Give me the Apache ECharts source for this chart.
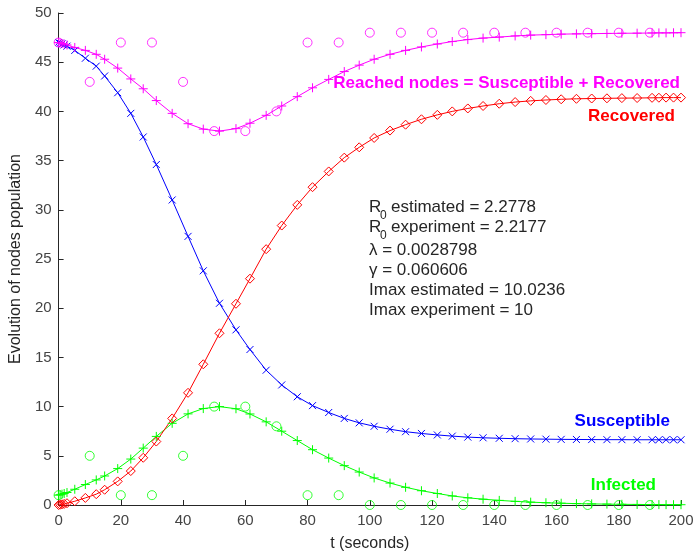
<!DOCTYPE html>
<html>
<head>
<meta charset="utf-8">
<script src="https://cdn.jsdelivr.net/npm/echarts@6/dist/echarts.min.js"></script>
<style>html,body{margin:0;padding:0;background:#fff;}#c{width:697px;height:557px;}</style>
</head>
<body>
<div id="c"></div>
<script>
// Solver time steps (seconds)
const tModel = [0, 0.5, 1.1, 1.8, 2.7, 5.2, 8.6, 12.1, 14.8, 19.0,
  23.2, 27.2, 31.4, 36.5, 41.6, 46.5, 51.7, 57.0, 61.5, 66.7,
  71.7, 76.7, 81.6, 86.8, 91.8, 96.6, 101.4, 106.5, 111.5, 116.6,
  121.7, 126.5, 131.5, 136.4, 141.6, 146.7, 151.7, 156.6, 161.5, 166.4,
  171.3, 176.2, 181.0, 185.9, 190.7, 192.9, 195.2, 197.6, 200];
const susceptible = [47, 46.93, 46.85, 46.76, 46.63, 46.2, 45.4, 44.6, 43.6, 41.9,
  39.8, 37.4, 34.6, 31.0, 27.3, 23.8, 20.5, 17.8, 15.8, 13.7,
  12.2, 11.0, 10.1, 9.4, 8.8, 8.35, 8.0, 7.7, 7.45, 7.27,
  7.12, 7.0, 6.9, 6.83, 6.78, 6.74, 6.71, 6.69, 6.67, 6.66,
  6.65, 6.64, 6.64, 6.63, 6.63, 6.63, 6.63, 6.63, 6.63];
const infected = [1, 1.05, 1.1, 1.17, 1.27, 1.6, 2.08, 2.55, 2.95, 3.7,
  4.67, 5.78, 6.97, 8.3, 9.26, 9.8, 10.0, 9.78, 9.25, 8.45,
  7.5, 6.55, 5.62, 4.77, 4.0, 3.35, 2.75, 2.23, 1.8, 1.45,
  1.17, 0.92, 0.73, 0.59, 0.47, 0.37, 0.29, 0.23, 0.18, 0.14,
  0.11, 0.09, 0.07, 0.055, 0.045, 0.04, 0.036, 0.033, 0.03];
const recovered = [0, 0.03, 0.07, 0.11, 0.18, 0.38, 0.72, 1.1, 1.55, 2.4,
  3.45, 4.8, 6.45, 8.8, 11.4, 14.3, 17.45, 20.45, 23.0, 26.0,
  28.4, 30.5, 32.3, 33.9, 35.3, 36.35, 37.3, 38.05, 38.65, 39.2,
  39.65, 40.0, 40.3, 40.55, 40.78, 40.95, 41.07, 41.16, 41.23, 41.28,
  41.31, 41.33, 41.35, 41.36, 41.38, 41.39, 41.4, 41.4, 41.4];
const reached = [47, 46.95, 46.9, 46.84, 46.75, 46.5, 46.2, 45.8, 45.3, 44.4,
  43.3, 42.3, 41.1, 39.8, 38.75, 38.2, 38.0, 38.25, 38.8, 39.6,
  40.55, 41.5, 42.4, 43.25, 44.05, 44.7, 45.3, 45.8, 46.2, 46.55,
  46.85, 47.1, 47.3, 47.45, 47.55, 47.67, 47.75, 47.8, 47.85, 47.88,
  47.9, 47.92, 47.94, 47.95, 47.97, 47.98, 47.98, 47.99, 48.0];
// Experimental observations
const tExp = [0, 10, 20, 30, 40, 50, 60, 70, 80, 90, 100, 110, 120, 130, 140, 150, 160, 170, 180, 190];
const infectedExp = [1, 5, 1, 1, 5, 10, 10, 8, 1, 1, 0, 0, 0, 0, 0, 0, 0, 0, 0, 0];
const reachedExp = [47, 43, 47, 47, 43, 38, 38, 40, 47, 47, 48, 48, 48, 48, 48, 48, 48, 48, 48, 48];
const xTicks = [0, 20, 40, 60, 80, 100, 120, 140, 160, 180, 200];
const yTicks = [0, 5, 10, 15, 20, 25, 30, 35, 40, 45, 50];

const BLUE = '#0000ff', RED = '#ff0000', GREEN = '#00ff00', MAG = '#ff00ff';
const FONT = '"Liberation Sans", Arial, sans-serif';
const SYM_X = 'path://M0,0L10,10M0,10L10,0';
const SYM_PLUS = 'path://M5,0L5,10M0,5L10,5';

function pairs(xs, ys) { return xs.map((x, i) => [x, ys[i]]); }
function lineSeries(name, ys, color, symbol, size, z) {
  return {
    name, type: 'line', data: pairs(tModel, ys), symbol, symbolSize: size,
    showAllSymbol: true, clip: false, z, animation: false,
    lineStyle: { color, width: 1 },
    itemStyle: { color: symbol.startsWith('path') ? color : 'rgba(0,0,0,0)', borderColor: color, borderWidth: 1 }
  };
}
function expSeries(name, ys, color) {
  return {
    name, type: 'scatter', data: pairs(tExp, ys), symbol: 'circle', symbolSize: 9,
    clip: false, z: 5, animation: false,
    itemStyle: { color: 'rgba(0,0,0,0)', borderColor: color, borderWidth: 1 }
  };
}

const chart = echarts.init(document.getElementById('c'));
const axisCommon = {
  axisLine: { show: true, lineStyle: { color: '#262626', width: 1 } },
  axisTick: { show: true, inside: true, length: 5, lineStyle: { color: '#262626' } },
  splitLine: { show: false },
  nameTextStyle: { color: '#262626', fontSize: 16, fontFamily: FONT }
};
const TXT = '#262626';
const info = [
  { type: 'text', left: 369, top: 199, style: { text: 'R', fill: TXT, font: '17px ' + FONT } },
  { type: 'text', left: 380, top: 210, style: { text: '0', fill: TXT, font: '12px ' + FONT } },
  { type: 'text', left: 391, top: 199, style: { text: 'estimated = 2.2778', fill: TXT, font: '17px ' + FONT } },
  { type: 'text', left: 369, top: 219, style: { text: 'R', fill: TXT, font: '17px ' + FONT } },
  { type: 'text', left: 380, top: 230, style: { text: '0', fill: TXT, font: '12px ' + FONT } },
  { type: 'text', left: 391, top: 219, style: { text: 'experiment = 2.2177', fill: TXT, font: '17px ' + FONT } },
  { type: 'text', left: 369, top: 242, style: { text: '\u03bb = 0.0028798', fill: TXT, font: '17px ' + FONT } },
  { type: 'text', left: 369, top: 262, style: { text: '\u03b3 = 0.060606', fill: TXT, font: '17px ' + FONT } },
  { type: 'text', left: 369, top: 282, style: { text: 'Imax estimated = 10.0236', fill: TXT, font: '17px ' + FONT } },
  { type: 'text', left: 369, top: 302, style: { text: 'Imax experiment = 10', fill: TXT, font: '17px ' + FONT } },
  { type: 'text', right: 17, top: 75, style: { text: 'Reached nodes = Susceptible + Recovered', fill: MAG, font: 'bold 17px ' + FONT } },
  { type: 'text', right: 22, top: 108, style: { text: 'Recovered', fill: RED, font: 'bold 17px ' + FONT } },
  { type: 'text', right: 27, top: 413, style: { text: 'Susceptible', fill: BLUE, font: 'bold 17px ' + FONT } },
  { type: 'text', right: 41, top: 477, style: { text: 'Infected', fill: GREEN, font: 'bold 17px ' + FONT } }
];

chart.setOption({
  backgroundColor: '#fff',
  animation: false,
  grid: { left: 57, right: 16, top: 13, bottom: 50 },
  xAxis: Object.assign({
    type: 'value', min: xTicks[0], max: xTicks[xTicks.length - 1], interval: 20,
    name: 't (seconds)', nameLocation: 'middle', nameGap: 31,
    axisLabel: { color: '#444', fontSize: 15, fontFamily: FONT, margin: 8 }
  }, axisCommon),
  yAxis: Object.assign({
    type: 'value', min: yTicks[0], max: yTicks[yTicks.length - 1], interval: 5,
    name: 'Evolution of nodes population', nameLocation: 'middle', nameGap: 28,
    axisLabel: { color: '#444', fontSize: 15, fontFamily: FONT, margin: 7 }
  }, axisCommon),
  series: [
    lineSeries('Susceptible', susceptible, BLUE, SYM_X, 7, 3),
    lineSeries('Infected', infected, GREEN, SYM_PLUS, 9, 3),
    lineSeries('Recovered', recovered, RED, 'diamond', 9, 3),
    lineSeries('Reached', reached, MAG, SYM_PLUS, 9, 3),
    expSeries('Infected exp', infectedExp, GREEN),
    expSeries('Reached exp', reachedExp, MAG)
  ],
  graphic: info
});
</script>
</body>
</html>
